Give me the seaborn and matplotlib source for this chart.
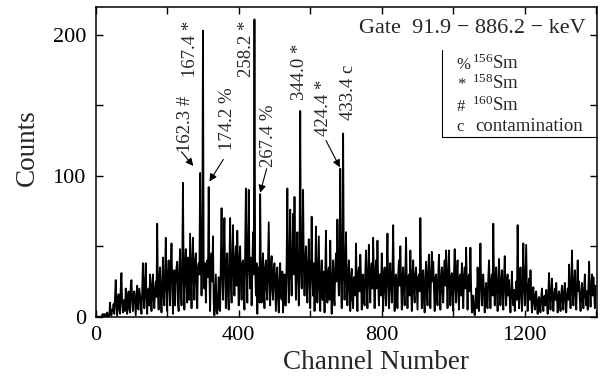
import numpy as np
import pandas as pd
import matplotlib
matplotlib.use("Agg")
import matplotlib.pyplot as plt
import seaborn as sns
from matplotlib.ticker import MultipleLocator, FuncFormatter

# ---- data (channel step 2; 50 values per 100 channels) ----
channel_step = 2
counts = [
    # 0 - 98
    0, 0, 0, 0, 0, 0, 0, 0, 0, 1, 2, 0, 0, 2, 1, 0, 3, 1, 0, 0,
    10, 3, 1, 5, 4, 9, 2, 14, 26, 8, 1, 12, 16, 5, 2, 20, 31, 10, 3, 8,
    12, 4, 20, 9, 2, 14, 18, 5, 3, 22,
    # 100 - 198
    26, 12, 4, 16, 18, 10, 1, 15, 22, 6, 5, 20, 15, 10, 2, 18, 38, 15, 6, 25,
    38, 14, 2, 18, 20, 8, 30, 18, 4, 22, 30, 12, 6, 20, 25, 14, 66, 18, 5, 28,
    35, 15, 3, 22, 42, 15, 8, 30, 56, 20,
    # 200 - 298
    4, 30, 40, 22, 8, 35, 52, 25, 2, 30, 33, 8, 28, 35, 39, 10, 4, 33, 48, 20,
    8, 35, 95, 30, 5, 38, 48, 25, 10, 42, 35, 12, 59, 32, 6, 38, 56, 28, 12, 40,
    45, 25, 6, 35, 38, 30, 102, 40, 15, 40,
    # 300 - 398
    203, 35, 20, 38, 10, 32, 40, 28, 92, 30, 4, 35, 45, 25, 57, 10, 1, 15, 30, 4,
    2, 12, 28, 5, 4, 40, 77, 30, 12, 45, 70, 30, 6, 40, 45, 15, 5, 38, 70, 25,
    10, 42, 65, 30, 15, 40, 50, 22, 61, 35,
    # 400 - 498
    8, 40, 50, 25, 12, 38, 40, 20, 5, 45, 91, 35, 10, 50, 90, 35, 20, 42, 8, 35,
    60, 30, 211, 35, 15, 38, 2, 30, 35, 10, 87, 30, 10, 35, 45, 22, 6, 35, 40, 20,
    12, 38, 67, 25, 8, 35, 43, 20, 12, 35,
    # 500 - 598
    38, 20, 4, 30, 35, 12, 3, 25, 38, 15, 12, 32, 3, 20, 30, 8, 8, 40, 91, 35,
    10, 40, 76, 30, 15, 45, 73, 30, 85, 38, 12, 40, 60, 28, 8, 42, 146, 35, 20, 45,
    90, 35, 15, 40, 50, 25, 10, 38, 55, 25,
    # 600 - 698
    6, 35, 71, 30, 15, 38, 4, 30, 64, 25, 10, 35, 57, 20, 4, 28, 40, 12, 12, 32,
    3, 30, 61, 18, 10, 32, 35, 12, 54, 22, 2, 25, 40, 15, 8, 35, 45, 25, 69, 30,
    15, 42, 105, 25, 6, 40, 130, 30, 12, 38,
    # 700 - 798
    60, 25, 8, 30, 40, 20, 4, 28, 34, 12, 6, 28, 28, 15, 52, 25, 4, 30, 35, 18,
    44, 28, 5, 28, 30, 12, 8, 32, 47, 22, 6, 32, 51, 25, 10, 35, 38, 20, 56, 28,
    6, 30, 40, 20, 54, 25, 8, 30, 30, 15,
    # 800 - 898
    45, 22, 4, 30, 35, 18, 8, 32, 59, 25, 6, 30, 38, 20, 10, 32, 65, 25, 4, 28,
    30, 15, 6, 30, 40, 22, 50, 25, 5, 28, 35, 18, 8, 32, 56, 25, 6, 28, 30, 15,
    47, 22, 4, 30, 40, 18, 10, 30, 35, 20,
    # 900 - 998
    5, 28, 30, 18, 70, 28, 6, 30, 33, 12, 3, 28, 39, 18, 8, 32, 44, 22, 6, 30,
    46, 25, 39, 20, 4, 28, 30, 15, 8, 30, 44, 22, 5, 28, 35, 18, 10, 32, 40, 22,
    47, 25, 6, 30, 47, 22, 8, 28, 31, 15,
    # 1000 - 1098
    4, 30, 48, 22, 10, 30, 40, 18, 5, 28, 30, 15, 38, 25, 6, 28, 35, 20, 49, 25,
    5, 28, 30, 18, 49, 20, 3, 10, 15, 4, 1, 8, 20, 6, 35, 18, 4, 30, 52, 22,
    8, 25, 30, 15, 3, 18, 24, 8, 6, 28,
    # 1100 - 1198
    40, 22, 6, 25, 30, 15, 66, 25, 8, 28, 35, 18, 4, 25, 41, 20, 8, 25, 33, 15,
    5, 28, 43, 20, 8, 25, 30, 15, 26, 12, 3, 18, 32, 15, 8, 19, 4, 15, 25, 12,
    65, 22, 6, 25, 35, 15, 4, 28, 52, 20,
    # 1200 - 1298
    8, 28, 51, 18, 4, 20, 27, 12, 33, 15, 3, 15, 21, 10, 5, 16, 18, 8, 2, 12,
    14, 6, 3, 14, 20, 10, 4, 14, 15, 8, 19, 12, 2, 18, 31, 14, 5, 18, 27, 12,
    4, 15, 20, 12, 24, 14, 3, 14, 18, 10,
    # 1300 - 1398
    4, 16, 22, 12, 5, 18, 24, 12, 3, 15, 20, 12, 37, 18, 6, 22, 47, 20, 8, 25,
    33, 15, 5, 22, 40, 18, 25, 12, 4, 16, 24, 12, 6, 20, 30, 15, 8, 18, 5, 22,
    39, 18, 7, 22, 30, 15, 28, 18, 6, 22,
]
channels = np.arange(len(counts)) * channel_step

x_ticks = [0, 400, 800, 1200]
y_ticks = [0, 100, 200]

peak_labels = ["162.3 #", "167.4 *", "174.2 %", "258.2 *", "267.4 %", "344.0 *", "424.4 *", "433.4 c"]
label_x = [250, 264, 370, 422, 483, 569, 637, 707]
label_y = [117, 170, 118, 170, 106, 154, 128, 139.5]

arrow_from = [(240, 117), (357, 111.6), (478, 105), (644, 125)]
arrow_to = [(273, 107), (318, 96), (460, 88), (683, 106)]

legend_symbols = ["%", "*", "#", "c"]
legend_names = [r"$^{156}$Sm", r"$^{158}$Sm", r"$^{160}$Sm", "contamination"]
gate_text = "Gate  91.9 \u2212 886.2 \u2212 keV"

df = pd.DataFrame({"Channel": channels, "Counts": counts})

sns.set_theme(style="ticks")
plt.rcParams["font.family"] = ["Liberation Serif", "DejaVu Serif"]
plt.rcParams["mathtext.fontset"] = "custom"
plt.rcParams["mathtext.rm"] = "Liberation Serif"
plt.rcParams["mathtext.it"] = "Liberation Serif:italic"

fig = plt.figure(figsize=(6.04, 3.80), dpi=100)
ax = fig.add_axes([95.7 / 604, 1 - 316.7 / 380, (597 - 95.7) / 604, (316.7 - 6.7) / 380])

sns.lineplot(data=df, x="Channel", y="Counts", color="black", lw=1.3, ax=ax, estimator=None)

ax.set_xlim(0, 1402)
ax.set_ylim(0, 220)
ax.xaxis.set_major_locator(MultipleLocator(200))
ax.yaxis.set_major_locator(MultipleLocator(50))
ax.xaxis.set_major_formatter(FuncFormatter(lambda v, p: f"{int(v)}" if int(round(v)) in x_ticks else ""))
ax.yaxis.set_major_formatter(FuncFormatter(lambda v, p: f"{int(v)}" if int(round(v)) in y_ticks else ""))
ax.tick_params(direction="in", length=5, width=1.0, top=True, right=True, labelsize=16, pad=7, colors="black")
for s in ax.spines.values():
    s.set_linewidth(1.1)
    s.set_color("black")

ax.set_xlabel("Channel Number", fontsize=19.5)
ax.set_ylabel("Counts", fontsize=19.5)
ax.xaxis.set_label_coords((376 - 95.7) / 501.3, -0.108)
ax.yaxis.set_label_coords(-(95.7 - 40) / 501.3, (316.7 - 148) / 310)

for t, x, y in zip(peak_labels, label_x, label_y):
    ax.text(x, y, t, rotation=90, ha="center", va="bottom", fontsize=13.5)

for (x0, y0), (x1, y1) in zip(arrow_from, arrow_to):
    ax.annotate("", xy=(x1, y1), xytext=(x0, y0),
                arrowprops=dict(arrowstyle="-|>", color="black", lw=0.8, mutation_scale=11, shrinkA=0, shrinkB=0))

ax.text(1371, 201, gate_text, ha="right", va="baseline", fontsize=16)

# key box (left and bottom borders)
ax.plot([968, 968, 1402], [189, 127.7, 127.7], color="black", lw=0.8, clip_on=False)
leg_y = [176, 161.5, 146, 132]
for sym, name, y in zip(legend_symbols, legend_names, leg_y):
    ax.text(1010, y, sym, ha="left", va="baseline", fontsize=12)
    ax.text(1052 if name != "contamination" else 1061, y, name, ha="left", va="baseline", fontsize=13.5)

fig.savefig("out.png", dpi=100)
